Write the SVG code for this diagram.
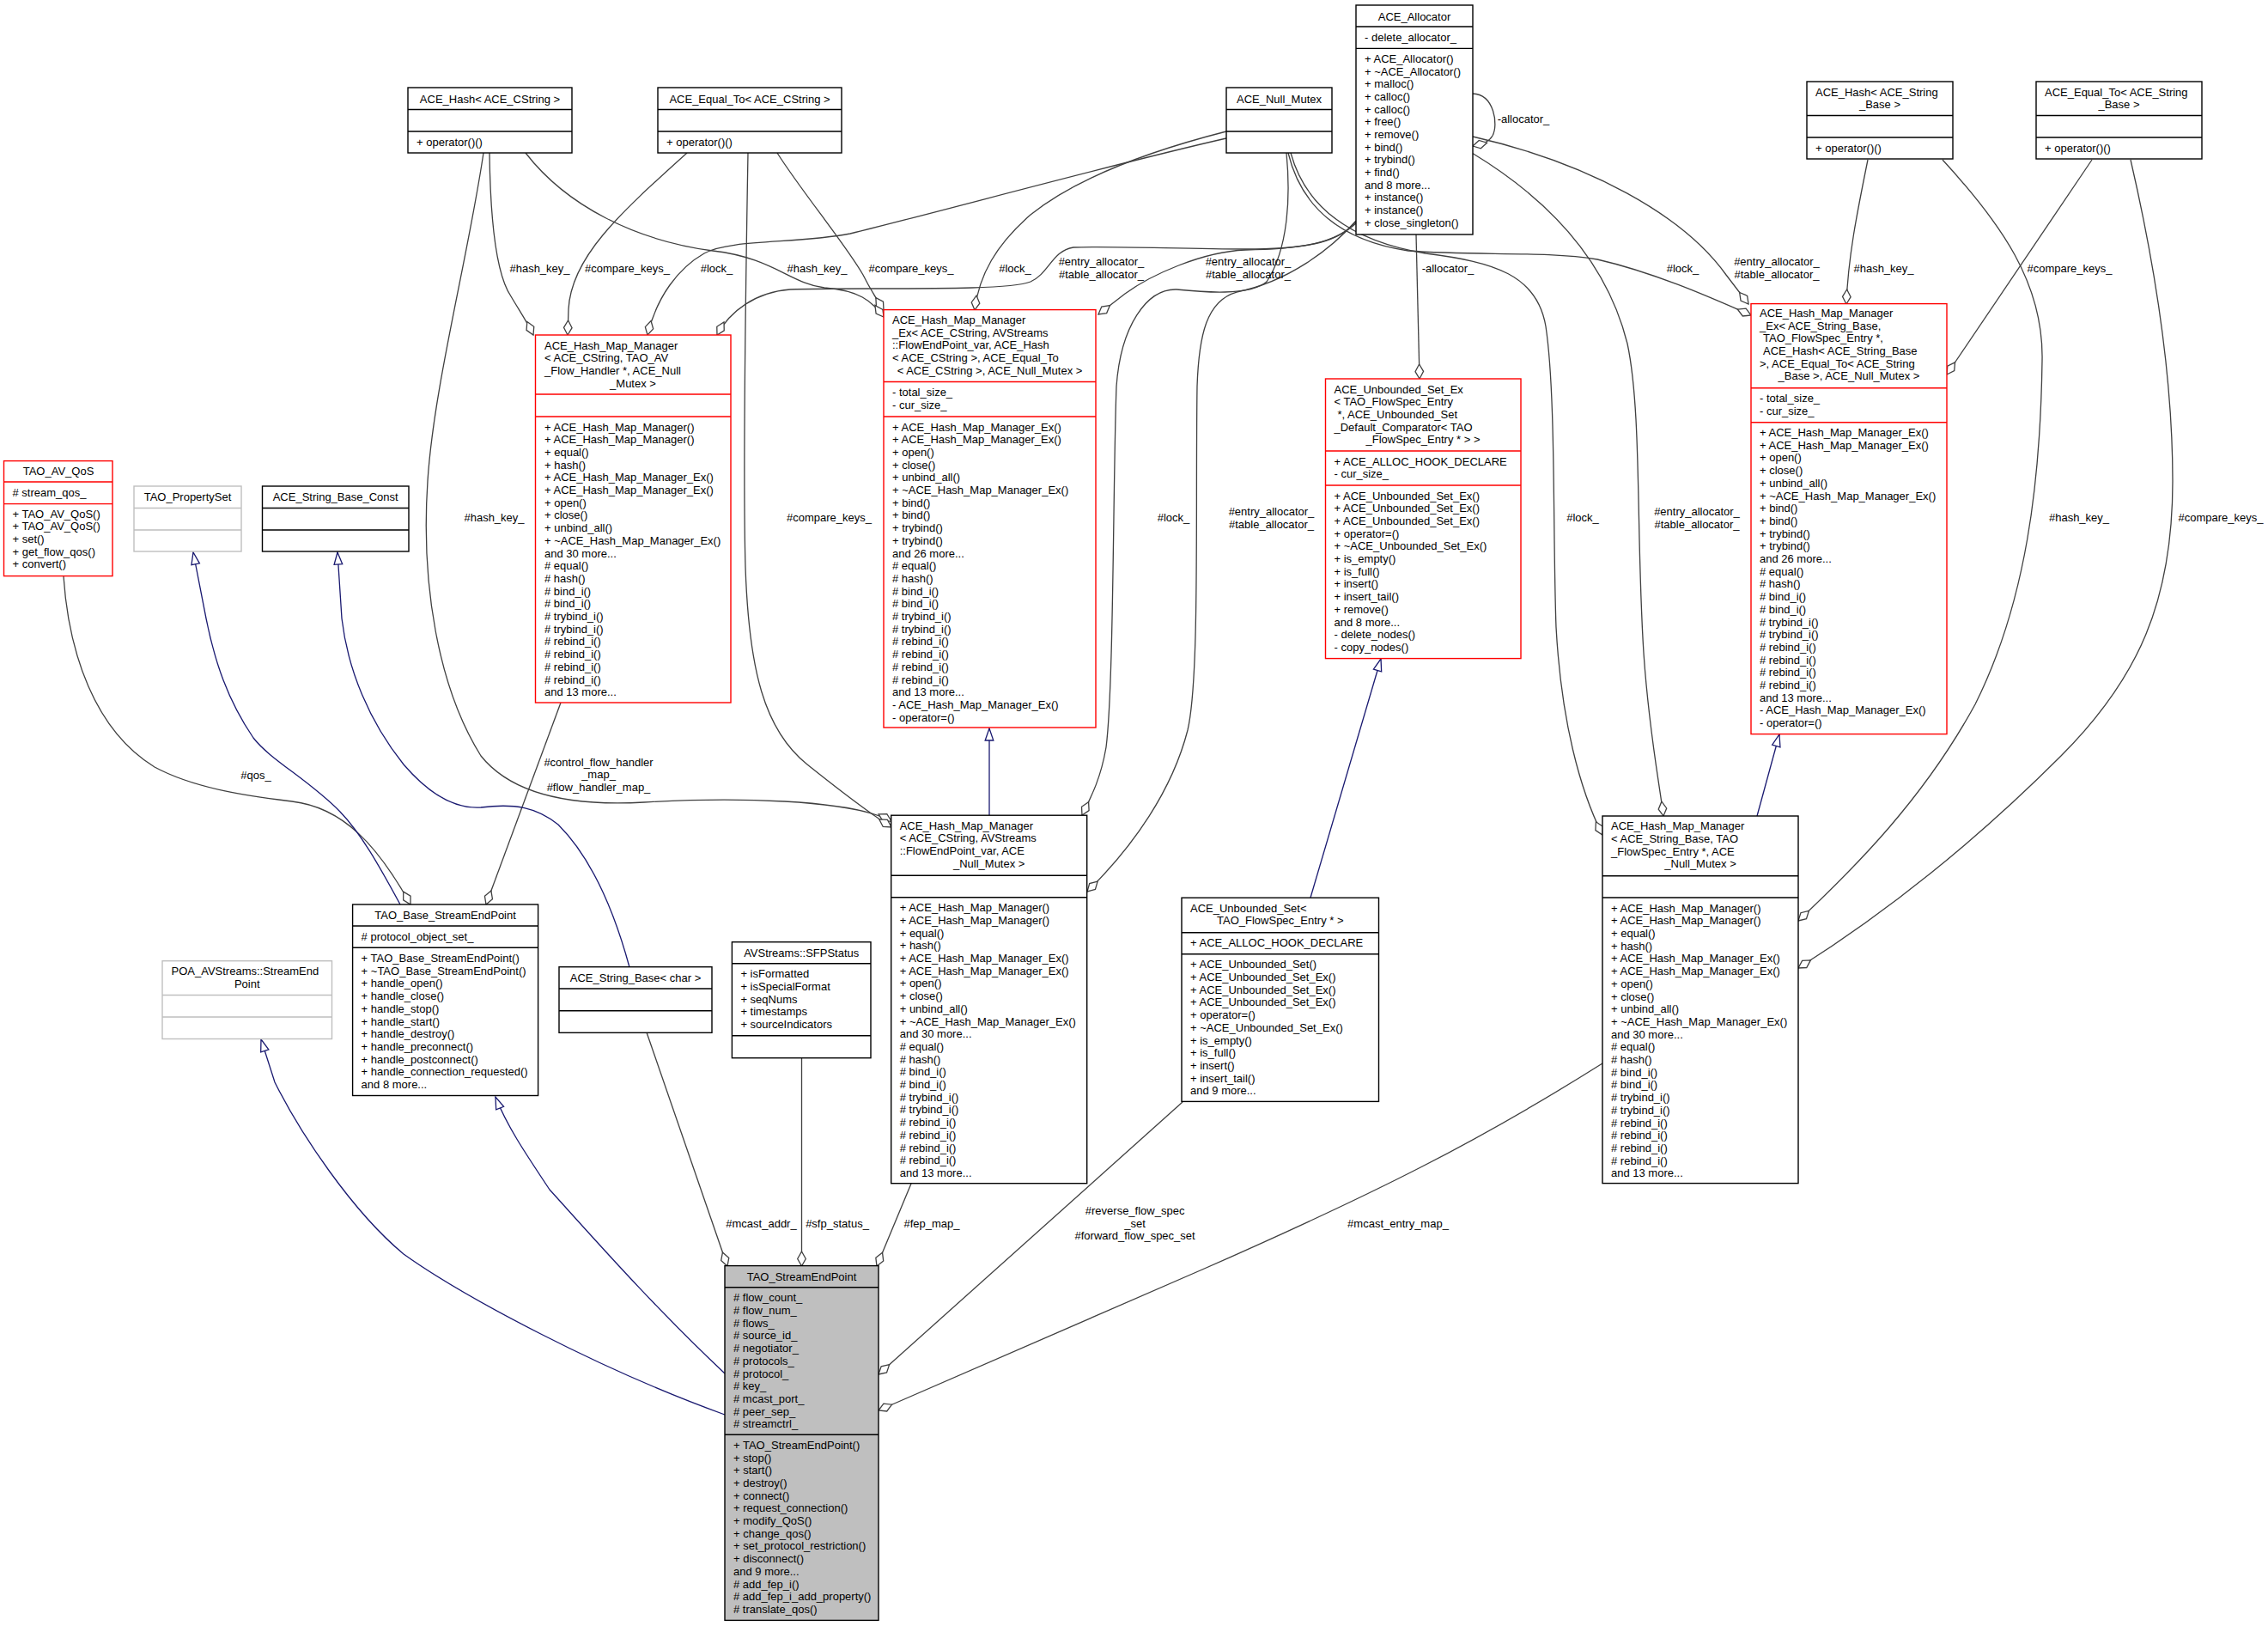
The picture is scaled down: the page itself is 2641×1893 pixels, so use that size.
<svg xmlns="http://www.w3.org/2000/svg" width="2641" height="1893" viewBox="0 0 2641 1893">
<style>
text{font-family:"Liberation Sans",Arial,Helvetica,sans-serif;font-size:13px;fill:#000}
.c{text-anchor:middle}
rect{fill:#fff}
rect.sel{fill:#bfbfbf}
.bk{stroke:#000;stroke-width:1.4}
.rd{stroke:#ff0000;stroke-width:1.4}
.gy{stroke:#bfbfbf;stroke-width:1.4}
path.sp{fill:none}
.e{fill:none;stroke:#404040;stroke-width:1.3;marker-end:url(#dia)}
.i{fill:none;stroke:#191970;stroke-width:1.3;marker-end:url(#tri)}
</style>
<defs>
<marker id="dia" markerUnits="userSpaceOnUse" viewBox="-2 -7 21 14" refX="17" refY="0" markerWidth="21" markerHeight="14" orient="auto"><path d="M0,0 L8.5,-4.8 L17,0 L8.5,4.8 Z" fill="#fff" stroke="#404040" stroke-width="1.3"/></marker>
<marker id="tri" markerUnits="userSpaceOnUse" viewBox="-2 -7 18 14" refX="14" refY="0" markerWidth="18" markerHeight="14" orient="auto"><path d="M0,-4.8 L14,0 L0,4.8 Z" fill="#fff" stroke="#191970" stroke-width="1.3"/></marker>
</defs>
<rect x="0" y="0" width="2641" height="1893" fill="#fff"/>

<g id="edges">
<!-- aggregation -->
<path class="e" d="M74,671 C80,760 110,850 180,893 C230,920 300,928 340,933 C400,940 440,985 478,1053"/>
<path class="e" d="M653,818 L566,1053"/>
<path class="e" d="M570,178 C571,260 578,320 595,345 C605,362 614,375 621,390"/>
<path class="e" d="M800,178 C720,250 665,300 662,360 L661,390"/>
<path class="e" d="M1428,161 C1300,190 1100,245 990,272 C930,284 850,278 820,295 C790,312 765,345 754,390"/>
<path class="e" d="M1579,258 C1560,280 1530,290 1450,290 C1380,290 1290,286 1250,288 C1225,292 1222,318 1200,328 C1170,340 1000,334 920,337 C880,340 850,362 835,390"/>
<path class="e" d="M612,178 C660,240 740,280 830,292 C900,300 920,330 960,335 C1000,338 1015,350 1029,369"/>
<path class="e" d="M905,178 C935,225 985,285 1005,320 C1015,340 1022,350 1029,361"/>
<path class="e" d="M1428,153 C1330,178 1250,210 1200,250 C1160,285 1140,320 1135,361"/>
<path class="e" d="M1579,260 C1555,282 1520,290 1450,291 C1400,293 1340,320 1310,342 L1279,366"/>
<path class="e" d="M1498,178 C1503,230 1500,290 1475,328 C1455,345 1400,340 1370,337 C1335,336 1305,380 1300,450 C1296,560 1297,800 1288,870 C1282,905 1272,925 1260,949"/>
<path class="e" d="M1579,257 C1550,290 1500,328 1440,340 C1405,350 1396,390 1394,450 C1392,600 1397,790 1383,850 C1365,920 1320,985 1266,1038"/>
<path class="e" d="M563,178 C545,300 505,450 498,560 C490,680 510,800 560,880 C600,930 680,938 750,934 C850,928 990,930 1038,956"/>
<path class="e" d="M871,178 C868,350 865,550 868,660 C872,780 890,850 940,890 C975,918 1010,945 1038,963"/>
<path class="e" d="M1061,1378 L1021,1474"/>
<path class="e" d="M753,1202 L847,1474"/>
<path class="e" d="M933.5,1232 L933.5,1474"/>
<path class="e" d="M1377,1283 L1023,1600"/>
<path class="e" d="M1866,1238 C1720,1330 1600,1390 1400,1478 L1023,1642"/>
<path class="e" d="M1715,109 C1740,110 1745,145 1738,158 C1734,165 1728,167 1715,170"/>
<path class="e" d="M1649,273 L1653,441"/>
<path class="e" d="M1715,159 C1850,190 1960,250 2010,320 L2036,354"/>
<path class="e" d="M1500,178 C1515,240 1560,280 1640,292 C1720,298 1800,292 1860,302 C1930,318 2000,350 2039,367"/>
<path class="e" d="M1503,178 C1520,240 1570,280 1660,295 C1740,305 1790,320 1800,380 C1812,460 1808,620 1812,730 C1818,840 1840,920 1866,972"/>
<path class="e" d="M1714,178 C1800,230 1870,300 1895,400 C1912,480 1905,620 1914,760 C1920,850 1932,910 1937,950"/>
<path class="e" d="M2175,186 C2162,250 2152,300 2150,354"/>
<path class="e" d="M2262,186 C2330,260 2380,330 2378,420 C2376,560 2360,700 2300,820 C2240,930 2160,1010 2094,1072"/>
<path class="e" d="M2436,186 L2267,436"/>
<path class="e" d="M2481,186 C2505,290 2530,430 2530,560 C2530,700 2490,790 2400,880 C2300,980 2200,1060 2094,1127"/>
<!-- inheritance -->
<path class="i" d="M466,1053 C440,1005 420,970 396,945 C360,908 315,885 295,859 C265,815 250,770 240,720 L225,643"/>
<path class="i" d="M733,1126 C715,1060 690,1000 650,960 C625,940 600,935 560,940 C530,942 500,925 470,890 C430,840 405,780 398,720 L393,643"/>
<path class="i" d="M844,1647 C700,1595 540,1510 470,1460 C410,1410 350,1320 320,1260 L304,1210"/>
<path class="i" d="M844,1599 C760,1520 690,1440 640,1385 C610,1340 590,1310 577,1277"/>
<path class="i" d="M1152,949 L1152,848"/>
<path class="i" d="M2046,950 L2072,855"/>
<path class="i" d="M1526,1045 L1608,767"/>
<!-- labels -->
<text class="c" x="298" y="906.5">#qos_</text>
<text class="c" x="697" y="891.5">#control_flow_handler<tspan x="697" dy="14.7">_map_</tspan><tspan x="697" dy="14.7">#flow_handler_map_</tspan></text>
<text class="c" x="628.5" y="316.5">#hash_key_</text>
<text class="c" x="730.5" y="316.5">#compare_keys_</text>
<text class="c" x="834.5" y="316.5">#lock_</text>
<text class="c" x="1282.5" y="309">#entry_allocator_<tspan x="1282.5" dy="15">#table_allocator_</tspan></text>
<text class="c" x="951.5" y="316.5">#hash_key_</text>
<text class="c" x="1061" y="316.5">#compare_keys_</text>
<text class="c" x="1182" y="316.5">#lock_</text>
<text class="c" x="1453.5" y="309">#entry_allocator_<tspan x="1453.5" dy="15">#table_allocator_</tspan></text>
<text class="c" x="1366.5" y="607">#lock_</text>
<text class="c" x="1480.5" y="599.5">#entry_allocator_<tspan x="1480.5" dy="15">#table_allocator_</tspan></text>
<text class="c" x="575.5" y="607">#hash_key_</text>
<text class="c" x="965.5" y="607">#compare_keys_</text>
<text class="c" x="1085" y="1428.8">#fep_map_</text>
<text class="c" x="886.5" y="1428.8">#mcast_addr_</text>
<text class="c" x="975" y="1428.8">#sfp_status_</text>
<text class="c" x="1321.6" y="1414">#reverse_flow_spec<tspan x="1321.6" dy="14.7">_set</tspan><tspan x="1321.6" dy="14.7">#forward_flow_spec_set</tspan></text>
<text class="c" x="1628" y="1429">#mcast_entry_map_</text>
<text class="c" x="1774" y="143">-allocator_</text>
<text class="c" x="1686" y="316.5">-allocator_</text>
<text class="c" x="2069" y="309">#entry_allocator_<tspan x="2069" dy="15">#table_allocator_</tspan></text>
<text class="c" x="1959.5" y="316.5">#lock_</text>
<text class="c" x="1843" y="607">#lock_</text>
<text class="c" x="1976" y="599.5">#entry_allocator_<tspan x="1976" dy="15">#table_allocator_</tspan></text>
<text class="c" x="2193.5" y="316.5">#hash_key_</text>
<text class="c" x="2421" y="607">#hash_key_</text>
<text class="c" x="2410" y="316.5">#compare_keys_</text>
<text class="c" x="2586" y="607">#compare_keys_</text>
</g>

<g id="n_ace_allocator">
<rect class="bk" x="1579" y="6" width="136" height="267"/>
<path class="bk sp" d="M1579,31H1715M1579,56.4H1715"/>
<text class="c" x="1647" y="23.5">ACE_Allocator</text>
<text x="1589" y="48">- delete_allocator_</text>
<text y="72.8"><tspan x="1589">+ ACE_Allocator()</tspan><tspan x="1589" dy="14.7">+ ~ACE_Allocator()</tspan><tspan x="1589" dy="14.7">+ malloc()</tspan><tspan x="1589" dy="14.7">+ calloc()</tspan><tspan x="1589" dy="14.7">+ calloc()</tspan><tspan x="1589" dy="14.7">+ free()</tspan><tspan x="1589" dy="14.7">+ remove()</tspan><tspan x="1589" dy="14.7">+ bind()</tspan><tspan x="1589" dy="14.7">+ trybind()</tspan><tspan x="1589" dy="14.7">+ find()</tspan><tspan x="1589" dy="14.7">and 8 more...</tspan><tspan x="1589" dy="14.7">+ instance()</tspan><tspan x="1589" dy="14.7">+ instance()</tspan><tspan x="1589" dy="14.7">+ close_singleton()</tspan></text>
</g>

<g id="n_hash_cstring">
<rect class="bk" x="475" y="102" width="191" height="76"/>
<path class="bk sp" d="M475,127.5H666M475,153H666"/>
<text class="c" x="570.5" y="119.5">ACE_Hash&lt; ACE_CString &gt;</text>
<text x="485" y="169.5">+ operator()()</text>
</g>

<g id="n_equal_cstring">
<rect class="bk" x="766" y="102" width="214" height="76"/>
<path class="bk sp" d="M766,127.5H980M766,153H980"/>
<text class="c" x="873" y="119.5">ACE_Equal_To&lt; ACE_CString &gt;</text>
<text x="776" y="169.5">+ operator()()</text>
</g>

<g id="n_null_mutex">
<rect class="bk" x="1428" y="102" width="123" height="76"/>
<path class="bk sp" d="M1428,127.5H1551M1428,153H1551"/>
<text class="c" x="1489.5" y="119.5">ACE_Null_Mutex</text>
</g>

<g id="n_hash_strbase">
<rect class="bk" x="2104" y="95" width="170" height="90"/>
<path class="bk sp" d="M2104,134.5H2274M2104,160H2274"/>
<text x="2114" y="111.5">ACE_Hash&lt; ACE_String</text>
<text class="c" x="2189" y="126.2">_Base &gt;</text>
<text x="2114" y="176.5">+ operator()()</text>
</g>

<g id="n_equal_strbase">
<rect class="bk" x="2371" y="95" width="193" height="90"/>
<path class="bk sp" d="M2371,134.5H2564M2371,160H2564"/>
<text x="2381" y="111.5">ACE_Equal_To&lt; ACE_String</text>
<text class="c" x="2467.5" y="126.2">_Base &gt;</text>
<text x="2381" y="176.5">+ operator()()</text>
</g>

<g id="n_hmm_flowhandler">
<rect class="rd" x="623.5" y="390" width="227.5" height="428"/>
<path class="rd sp" d="M623.5,459H851M623.5,485H851"/>
<text y="406.5"><tspan x="634">ACE_Hash_Map_Manager</tspan><tspan x="634" dy="14.7">&lt; ACE_CString, TAO_AV</tspan><tspan x="634" dy="14.7">_Flow_Handler *, ACE_Null</tspan><tspan class="c" x="737" dy="14.7">_Mutex &gt;</tspan></text>
<text y="501.5"><tspan x="634">+ ACE_Hash_Map_Manager()</tspan><tspan x="634" dy="14.7">+ ACE_Hash_Map_Manager()</tspan><tspan x="634" dy="14.7">+ equal()</tspan><tspan x="634" dy="14.7">+ hash()</tspan><tspan x="634" dy="14.7">+ ACE_Hash_Map_Manager_Ex()</tspan><tspan x="634" dy="14.7">+ ACE_Hash_Map_Manager_Ex()</tspan><tspan x="634" dy="14.7">+ open()</tspan><tspan x="634" dy="14.7">+ close()</tspan><tspan x="634" dy="14.7">+ unbind_all()</tspan><tspan x="634" dy="14.7">+ ~ACE_Hash_Map_Manager_Ex()</tspan><tspan x="634" dy="14.7">and 30 more...</tspan><tspan x="634" dy="14.7"># equal()</tspan><tspan x="634" dy="14.7"># hash()</tspan><tspan x="634" dy="14.7"># bind_i()</tspan><tspan x="634" dy="14.7"># bind_i()</tspan><tspan x="634" dy="14.7"># trybind_i()</tspan><tspan x="634" dy="14.7"># trybind_i()</tspan><tspan x="634" dy="14.7"># rebind_i()</tspan><tspan x="634" dy="14.7"># rebind_i()</tspan><tspan x="634" dy="14.7"># rebind_i()</tspan><tspan x="634" dy="14.7"># rebind_i()</tspan><tspan x="634" dy="14.7">and 13 more...</tspan></text>
</g>

<g id="n_hmmex_flowendpoint">
<rect class="rd" x="1029" y="360.6" width="247" height="486.4"/>
<path class="rd sp" d="M1029,444.5H1276M1029,485H1276"/>
<text y="377"><tspan x="1039">ACE_Hash_Map_Manager</tspan><tspan x="1039" dy="14.7">_Ex&lt; ACE_CString, AVStreams</tspan><tspan x="1039" dy="14.7">::FlowEndPoint_var, ACE_Hash</tspan><tspan x="1039" dy="14.7">&lt; ACE_CString &gt;, ACE_Equal_To</tspan><tspan class="c" x="1152.5" dy="14.7">&lt; ACE_CString &gt;, ACE_Null_Mutex &gt;</tspan></text>
<text y="461.3"><tspan x="1039">- total_size_</tspan><tspan x="1039" dy="14.7">- cur_size_</tspan></text>
<text y="501.5"><tspan x="1039">+ ACE_Hash_Map_Manager_Ex()</tspan><tspan x="1039" dy="14.7">+ ACE_Hash_Map_Manager_Ex()</tspan><tspan x="1039" dy="14.7">+ open()</tspan><tspan x="1039" dy="14.7">+ close()</tspan><tspan x="1039" dy="14.7">+ unbind_all()</tspan><tspan x="1039" dy="14.7">+ ~ACE_Hash_Map_Manager_Ex()</tspan><tspan x="1039" dy="14.7">+ bind()</tspan><tspan x="1039" dy="14.7">+ bind()</tspan><tspan x="1039" dy="14.7">+ trybind()</tspan><tspan x="1039" dy="14.7">+ trybind()</tspan><tspan x="1039" dy="14.7">and 26 more...</tspan><tspan x="1039" dy="14.7"># equal()</tspan><tspan x="1039" dy="14.7"># hash()</tspan><tspan x="1039" dy="14.7"># bind_i()</tspan><tspan x="1039" dy="14.7"># bind_i()</tspan><tspan x="1039" dy="14.7"># trybind_i()</tspan><tspan x="1039" dy="14.7"># trybind_i()</tspan><tspan x="1039" dy="14.7"># rebind_i()</tspan><tspan x="1039" dy="14.7"># rebind_i()</tspan><tspan x="1039" dy="14.7"># rebind_i()</tspan><tspan x="1039" dy="14.7"># rebind_i()</tspan><tspan x="1039" dy="14.7">and 13 more...</tspan><tspan x="1039" dy="14.7">- ACE_Hash_Map_Manager_Ex()</tspan><tspan x="1039" dy="14.7">- operator=()</tspan></text>
</g>

<g id="n_unbounded_set_ex">
<rect class="rd" x="1543.5" y="441" width="227.5" height="325.6"/>
<path class="rd sp" d="M1543.5,525H1771M1543.5,565H1771"/>
<text y="457.5"><tspan x="1553.5">ACE_Unbounded_Set_Ex</tspan><tspan x="1553.5" dy="14.7">&lt; TAO_FlowSpec_Entry</tspan><tspan x="1557.5" dy="14.7">*, ACE_Unbounded_Set</tspan><tspan x="1553.5" dy="14.7">_Default_Comparator&lt; TAO</tspan><tspan class="c" x="1657" dy="14.7">_FlowSpec_Entry * &gt; &gt;</tspan></text>
<text y="541.5"><tspan x="1553.5">+ ACE_ALLOC_HOOK_DECLARE</tspan><tspan x="1553.5" dy="14.7">- cur_size_</tspan></text>
<text y="581.5"><tspan x="1553.5">+ ACE_Unbounded_Set_Ex()</tspan><tspan x="1553.5" dy="14.7">+ ACE_Unbounded_Set_Ex()</tspan><tspan x="1553.5" dy="14.7">+ ACE_Unbounded_Set_Ex()</tspan><tspan x="1553.5" dy="14.7">+ operator=()</tspan><tspan x="1553.5" dy="14.7">+ ~ACE_Unbounded_Set_Ex()</tspan><tspan x="1553.5" dy="14.7">+ is_empty()</tspan><tspan x="1553.5" dy="14.7">+ is_full()</tspan><tspan x="1553.5" dy="14.7">+ insert()</tspan><tspan x="1553.5" dy="14.7">+ insert_tail()</tspan><tspan x="1553.5" dy="14.7">+ remove()</tspan><tspan x="1553.5" dy="14.7">and 8 more...</tspan><tspan x="1553.5" dy="14.7">- delete_nodes()</tspan><tspan x="1553.5" dy="14.7">- copy_nodes()</tspan></text>
</g>

<g id="n_hmmex_flowspec">
<rect class="rd" x="2039" y="353.6" width="228" height="501"/>
<path class="rd sp" d="M2039,451.8H2267M2039,491.8H2267"/>
<text y="368.8"><tspan x="2049">ACE_Hash_Map_Manager</tspan><tspan x="2049" dy="14.7">_Ex&lt; ACE_String_Base,</tspan><tspan x="2053" dy="14.7">TAO_FlowSpec_Entry *,</tspan><tspan x="2053" dy="14.7">ACE_Hash&lt; ACE_String_Base</tspan><tspan x="2049" dy="14.7">&gt;, ACE_Equal_To&lt; ACE_String</tspan><tspan class="c" x="2153" dy="14.7">_Base &gt;, ACE_Null_Mutex &gt;</tspan></text>
<text y="468"><tspan x="2049">- total_size_</tspan><tspan x="2049" dy="14.7">- cur_size_</tspan></text>
<text y="508"><tspan x="2049">+ ACE_Hash_Map_Manager_Ex()</tspan><tspan x="2049" dy="14.7">+ ACE_Hash_Map_Manager_Ex()</tspan><tspan x="2049" dy="14.7">+ open()</tspan><tspan x="2049" dy="14.7">+ close()</tspan><tspan x="2049" dy="14.7">+ unbind_all()</tspan><tspan x="2049" dy="14.7">+ ~ACE_Hash_Map_Manager_Ex()</tspan><tspan x="2049" dy="14.7">+ bind()</tspan><tspan x="2049" dy="14.7">+ bind()</tspan><tspan x="2049" dy="14.7">+ trybind()</tspan><tspan x="2049" dy="14.7">+ trybind()</tspan><tspan x="2049" dy="14.7">and 26 more...</tspan><tspan x="2049" dy="14.7"># equal()</tspan><tspan x="2049" dy="14.7"># hash()</tspan><tspan x="2049" dy="14.7"># bind_i()</tspan><tspan x="2049" dy="14.7"># bind_i()</tspan><tspan x="2049" dy="14.7"># trybind_i()</tspan><tspan x="2049" dy="14.7"># trybind_i()</tspan><tspan x="2049" dy="14.7"># rebind_i()</tspan><tspan x="2049" dy="14.7"># rebind_i()</tspan><tspan x="2049" dy="14.7"># rebind_i()</tspan><tspan x="2049" dy="14.7"># rebind_i()</tspan><tspan x="2049" dy="14.7">and 13 more...</tspan><tspan x="2049" dy="14.7">- ACE_Hash_Map_Manager_Ex()</tspan><tspan x="2049" dy="14.7">- operator=()</tspan></text>
</g>

<g id="n_tao_av_qos">
<rect class="rd" x="4.5" y="536.6" width="126.5" height="134"/>
<path class="rd sp" d="M4.5,561H131M4.5,586.6H131"/>
<text class="c" x="68" y="553.3">TAO_AV_QoS</text>
<text x="14.5" y="578"># stream_qos_</text>
<text y="602.6"><tspan x="14.5">+ TAO_AV_QoS()</tspan><tspan x="14.5" dy="14.7">+ TAO_AV_QoS()</tspan><tspan x="14.5" dy="14.7">+ set()</tspan><tspan x="14.5" dy="14.7">+ get_flow_qos()</tspan><tspan x="14.5" dy="14.7">+ convert()</tspan></text>
</g>

<g id="n_tao_propertyset">
<rect class="gy" x="156" y="566" width="125" height="76"/>
<path class="gy sp" d="M156,591.5H281M156,617H281"/>
<text class="c" x="218.5" y="583">TAO_PropertySet</text>
</g>

<g id="n_string_base_const">
<rect class="bk" x="305.5" y="566" width="170.5" height="76"/>
<path class="bk sp" d="M305.5,591.5H476M305.5,617H476"/>
<text class="c" x="390.7" y="583">ACE_String_Base_Const</text>
</g>

<g id="n_poa_streamendpoint">
<rect class="gy" x="189" y="1118.7" width="197.5" height="90.8"/>
<path class="gy sp" d="M189,1158.5H386.5M189,1184H386.5"/>
<text x="199.5" y="1135">POA_AVStreams::StreamEnd</text>
<text class="c" x="287.7" y="1149.7">Point</text>
</g>

<g id="n_tao_base_streamendpoint">
<rect class="bk" x="410.6" y="1053" width="216" height="222.5"/>
<path class="bk sp" d="M410.6,1078H626.6M410.6,1103.3H626.6"/>
<text class="c" x="518.6" y="1070">TAO_Base_StreamEndPoint</text>
<text x="420.6" y="1095.3"># protocol_object_set_</text>
<text y="1120"><tspan x="420.6">+ TAO_Base_StreamEndPoint()</tspan><tspan x="420.6" dy="14.7">+ ~TAO_Base_StreamEndPoint()</tspan><tspan x="420.6" dy="14.7">+ handle_open()</tspan><tspan x="420.6" dy="14.7">+ handle_close()</tspan><tspan x="420.6" dy="14.7">+ handle_stop()</tspan><tspan x="420.6" dy="14.7">+ handle_start()</tspan><tspan x="420.6" dy="14.7">+ handle_destroy()</tspan><tspan x="420.6" dy="14.7">+ handle_preconnect()</tspan><tspan x="420.6" dy="14.7">+ handle_postconnect()</tspan><tspan x="420.6" dy="14.7">+ handle_connection_requested()</tspan><tspan x="420.6" dy="14.7">and 8 more...</tspan></text>
</g>

<g id="n_string_base_char">
<rect class="bk" x="651" y="1125.7" width="178" height="76.6"/>
<path class="bk sp" d="M651,1151H829M651,1176.7H829"/>
<text class="c" x="740" y="1142.5">ACE_String_Base&lt; char &gt;</text>
</g>

<g id="n_sfpstatus">
<rect class="bk" x="852.4" y="1096.7" width="161.6" height="135"/>
<path class="bk sp" d="M852.4,1121.7H1014M852.4,1205.8H1014"/>
<text class="c" x="933.2" y="1113.5">AVStreams::SFPStatus</text>
<text y="1138.2"><tspan x="862.4">+ isFormatted</tspan><tspan x="862.4" dy="14.7">+ isSpecialFormat</tspan><tspan x="862.4" dy="14.7">+ seqNums</tspan><tspan x="862.4" dy="14.7">+ timestamps</tspan><tspan x="862.4" dy="14.7">+ sourceIndicators</tspan></text>
</g>

<g id="n_hmm_flowendpoint">
<rect class="bk" x="1037.7" y="949.2" width="228" height="428.5"/>
<path class="bk sp" d="M1037.7,1019.2H1265.7M1037.7,1044.7H1265.7"/>
<text y="965.7"><tspan x="1047.7">ACE_Hash_Map_Manager</tspan><tspan x="1047.7" dy="14.7">&lt; ACE_CString, AVStreams</tspan><tspan x="1047.7" dy="14.7">::FlowEndPoint_var, ACE</tspan><tspan class="c" x="1151.7" dy="14.7">_Null_Mutex &gt;</tspan></text>
<text y="1061.2"><tspan x="1047.7">+ ACE_Hash_Map_Manager()</tspan><tspan x="1047.7" dy="14.7">+ ACE_Hash_Map_Manager()</tspan><tspan x="1047.7" dy="14.7">+ equal()</tspan><tspan x="1047.7" dy="14.7">+ hash()</tspan><tspan x="1047.7" dy="14.7">+ ACE_Hash_Map_Manager_Ex()</tspan><tspan x="1047.7" dy="14.7">+ ACE_Hash_Map_Manager_Ex()</tspan><tspan x="1047.7" dy="14.7">+ open()</tspan><tspan x="1047.7" dy="14.7">+ close()</tspan><tspan x="1047.7" dy="14.7">+ unbind_all()</tspan><tspan x="1047.7" dy="14.7">+ ~ACE_Hash_Map_Manager_Ex()</tspan><tspan x="1047.7" dy="14.7">and 30 more...</tspan><tspan x="1047.7" dy="14.7"># equal()</tspan><tspan x="1047.7" dy="14.7"># hash()</tspan><tspan x="1047.7" dy="14.7"># bind_i()</tspan><tspan x="1047.7" dy="14.7"># bind_i()</tspan><tspan x="1047.7" dy="14.7"># trybind_i()</tspan><tspan x="1047.7" dy="14.7"># trybind_i()</tspan><tspan x="1047.7" dy="14.7"># rebind_i()</tspan><tspan x="1047.7" dy="14.7"># rebind_i()</tspan><tspan x="1047.7" dy="14.7"># rebind_i()</tspan><tspan x="1047.7" dy="14.7"># rebind_i()</tspan><tspan x="1047.7" dy="14.7">and 13 more...</tspan></text>
</g>

<g id="n_unbounded_set">
<rect class="bk" x="1376" y="1045.2" width="229.5" height="237.2"/>
<path class="bk sp" d="M1376,1085.7H1605.5M1376,1110.7H1605.5"/>
<text x="1386" y="1061.7">ACE_Unbounded_Set&lt;</text>
<text class="c" x="1490.8" y="1076.4">TAO_FlowSpec_Entry * &gt;</text>
<text x="1386" y="1102">+ ACE_ALLOC_HOOK_DECLARE</text>
<text y="1127.3"><tspan x="1386">+ ACE_Unbounded_Set()</tspan><tspan x="1386" dy="14.7">+ ACE_Unbounded_Set_Ex()</tspan><tspan x="1386" dy="14.7">+ ACE_Unbounded_Set_Ex()</tspan><tspan x="1386" dy="14.7">+ ACE_Unbounded_Set_Ex()</tspan><tspan x="1386" dy="14.7">+ operator=()</tspan><tspan x="1386" dy="14.7">+ ~ACE_Unbounded_Set_Ex()</tspan><tspan x="1386" dy="14.7">+ is_empty()</tspan><tspan x="1386" dy="14.7">+ is_full()</tspan><tspan x="1386" dy="14.7">+ insert()</tspan><tspan x="1386" dy="14.7">+ insert_tail()</tspan><tspan x="1386" dy="14.7">and 9 more...</tspan></text>
</g>

<g id="n_hmm_flowspec">
<rect class="bk" x="1866" y="950" width="228" height="427.6"/>
<path class="bk sp" d="M1866,1019.7H2094M1866,1045H2094"/>
<text y="966.3"><tspan x="1876">ACE_Hash_Map_Manager</tspan><tspan x="1876" dy="14.7">&lt; ACE_String_Base, TAO</tspan><tspan x="1876" dy="14.7">_FlowSpec_Entry *, ACE</tspan><tspan class="c" x="1980" dy="14.7">_Null_Mutex &gt;</tspan></text>
<text y="1061.6"><tspan x="1876">+ ACE_Hash_Map_Manager()</tspan><tspan x="1876" dy="14.7">+ ACE_Hash_Map_Manager()</tspan><tspan x="1876" dy="14.7">+ equal()</tspan><tspan x="1876" dy="14.7">+ hash()</tspan><tspan x="1876" dy="14.7">+ ACE_Hash_Map_Manager_Ex()</tspan><tspan x="1876" dy="14.7">+ ACE_Hash_Map_Manager_Ex()</tspan><tspan x="1876" dy="14.7">+ open()</tspan><tspan x="1876" dy="14.7">+ close()</tspan><tspan x="1876" dy="14.7">+ unbind_all()</tspan><tspan x="1876" dy="14.7">+ ~ACE_Hash_Map_Manager_Ex()</tspan><tspan x="1876" dy="14.7">and 30 more...</tspan><tspan x="1876" dy="14.7"># equal()</tspan><tspan x="1876" dy="14.7"># hash()</tspan><tspan x="1876" dy="14.7"># bind_i()</tspan><tspan x="1876" dy="14.7"># bind_i()</tspan><tspan x="1876" dy="14.7"># trybind_i()</tspan><tspan x="1876" dy="14.7"># trybind_i()</tspan><tspan x="1876" dy="14.7"># rebind_i()</tspan><tspan x="1876" dy="14.7"># rebind_i()</tspan><tspan x="1876" dy="14.7"># rebind_i()</tspan><tspan x="1876" dy="14.7"># rebind_i()</tspan><tspan x="1876" dy="14.7">and 13 more...</tspan></text>
</g>

<g id="n_tao_streamendpoint">
<rect class="bk sel" x="844" y="1473.6" width="179" height="412.8"/>
<path class="bk sp" d="M844,1498.7H1023M844,1670.3H1023"/>
<text class="c" x="933.5" y="1490.7">TAO_StreamEndPoint</text>
<text y="1515.3"><tspan x="854"># flow_count_</tspan><tspan x="854" dy="14.7"># flow_num_</tspan><tspan x="854" dy="14.7"># flows_</tspan><tspan x="854" dy="14.7"># source_id_</tspan><tspan x="854" dy="14.7"># negotiator_</tspan><tspan x="854" dy="14.7"># protocols_</tspan><tspan x="854" dy="14.7"># protocol_</tspan><tspan x="854" dy="14.7"># key_</tspan><tspan x="854" dy="14.7"># mcast_port_</tspan><tspan x="854" dy="14.7"># peer_sep_</tspan><tspan x="854" dy="14.7"># streamctrl_</tspan></text>
<text y="1686.8"><tspan x="854">+ TAO_StreamEndPoint()</tspan><tspan x="854" dy="14.7">+ stop()</tspan><tspan x="854" dy="14.7">+ start()</tspan><tspan x="854" dy="14.7">+ destroy()</tspan><tspan x="854" dy="14.7">+ connect()</tspan><tspan x="854" dy="14.7">+ request_connection()</tspan><tspan x="854" dy="14.7">+ modify_QoS()</tspan><tspan x="854" dy="14.7">+ change_qos()</tspan><tspan x="854" dy="14.7">+ set_protocol_restriction()</tspan><tspan x="854" dy="14.7">+ disconnect()</tspan><tspan x="854" dy="14.7">and 9 more...</tspan><tspan x="854" dy="14.7"># add_fep_i()</tspan><tspan x="854" dy="14.7"># add_fep_i_add_property()</tspan><tspan x="854" dy="14.7"># translate_qos()</tspan></text>
</g>
</svg>
